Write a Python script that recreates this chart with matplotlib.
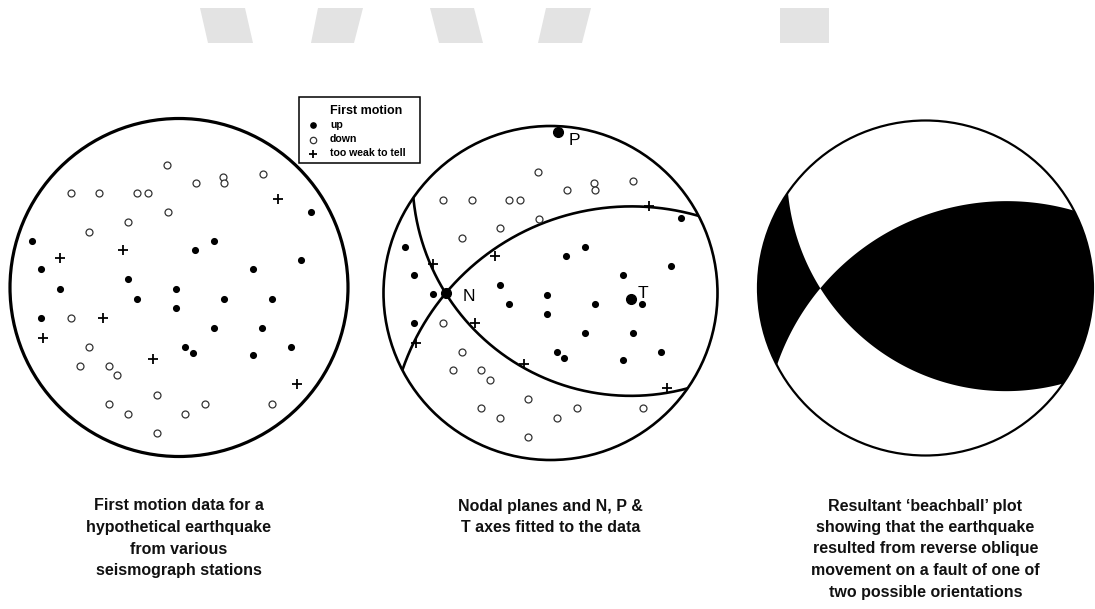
import numpy as np
import matplotlib
matplotlib.use("Agg")
import matplotlib.pyplot as plt
from matplotlib.patches import Circle, Polygon, Rectangle

# ---------------- data ----------------
# station positions on the net (unit circle; east, north)
up_e = [0.779, -0.872, 0.209, 0.095, 0.720, -0.818, 0.436, -0.304, -0.704, -0.018, -0.247,
        0.266, 0.549, -0.018, -0.815, 0.209, 0.493, 0.037, 0.081, 0.663, 0.436]
up_n = [0.447, 0.277, 0.277, 0.222, 0.163, 0.108, 0.108, 0.049, -0.007, -0.009, -0.068,
        -0.068, -0.068, -0.123, -0.182, -0.240, -0.240, -0.354, -0.389, -0.354, -0.401]
down_e = [-0.073, -0.641, -0.473, -0.247, -0.185, 0.099, 0.259, 0.266, 0.495, -0.067, -0.300,
          -0.531, -0.641, -0.531, -0.586, -0.416, -0.365, -0.132, -0.416, -0.304, 0.037,
          0.156, 0.552, -0.132]
down_n = [0.725, 0.557, 0.557, 0.557, 0.557, 0.617, 0.656, 0.617, 0.670, 0.445, 0.389,
          0.330, -0.182, -0.354, -0.463, -0.463, -0.518, -0.636, -0.691, -0.749, -0.749,
          -0.691, -0.691, -0.863]
weak_e = [0.588, -0.704, -0.330, -0.451, -0.803, -0.156, 0.700]
weak_n = [0.522, 0.176, 0.222, -0.182, -0.301, -0.425, -0.571]

# nodal planes (strike, dip in degrees)
plane_strike = [124.8, 242.5]
plane_dip = [40.1, 46.4]
# P and T axes positions on the net
p_axis = (0.046, 0.966)
t_axis = (0.482, -0.038)

legend_title = "First motion"
legend_labels = ["up", "down", "too weak to tell"]

captions = [
    ["First motion data for a", "hypothetical earthquake", "from various", "seismograph stations"],
    ["Nodal planes and N, P &", "T axes fitted to the data"],
    ["Resultant \u2018beachball\u2019 plot", "showing that the earthquake",
     "resulted from reverse oblique", "movement on a fault of one of",
     "two possible orientations"],
]

# ---------------- layout ----------------
W, H = 1095, 609
panels = [(179.0, 287.5, 169.0), (550.5, 293.0, 167.0), (925.5, 288.0, 167.5)]

fig = plt.figure(figsize=(W / 100, H / 100), dpi=100)
ax = fig.add_axes([0, 0, 1, 1])
ax.set_xlim(0, W)
ax.set_ylim(H, 0)
ax.axis("off")

NARROW = ["Liberation Sans Narrow", "Liberation Sans", "DejaVu Sans"]
SANS = ["Liberation Sans", "DejaVu Sans"]

# grey watermark shapes at the top
bars = [
    [(200, 8), (245, 8), (253, 43), (208, 43)],
    [(318, 8), (363, 8), (354, 43), (311, 43)],
    [(430, 8), (474, 8), (483, 43), (439, 43)],
    [(546, 8), (591, 8), (582, 43), (538, 43)],
    [(780, 8), (829, 8), (829, 43), (780, 43)],
]
for b in bars:
    ax.add_patch(Polygon(b, closed=True, facecolor="#e3e3e3", edgecolor="none", zorder=0))


def to_px(panel, e, n):
    cx, cy, r = panel
    return cx + r * np.asarray(e), cy - r * np.asarray(n)


def wulff(v):
    E, N, D = v
    D = np.clip(D, 0, 1)
    plunge = np.arcsin(D)
    R = np.tan((np.pi / 2 - plunge) / 2)
    h = np.hypot(E, N)
    h = np.where(h == 0, 1, h)
    return R * E / h, R * N / h


def plane_vectors(strike, dip):
    s, d = np.radians(strike), np.radians(dip)
    sv = np.array([np.sin(s), np.cos(s), 0.0])
    dv = np.array([np.cos(s) * np.cos(d), -np.sin(s) * np.cos(d), np.sin(d)])
    return sv, dv


def plane_curve(strike, dip, n=400):
    sv, dv = plane_vectors(strike, dip)
    t = np.linspace(0, np.pi, n)
    v = np.outer(sv, np.cos(t)) + np.outer(dv, np.sin(t))
    return wulff(v)


normals = []
for s, d in zip(plane_strike, plane_dip):
    sv, dv = plane_vectors(s, d)
    normals.append(np.cross(sv, dv))

# null axis = intersection of the planes
nvec = np.cross(normals[0], normals[1])
if nvec[2] < 0:
    nvec = -nvec
nvec = nvec / np.linalg.norm(nvec)
n_e, n_n = wulff(nvec)

# ---------------- panel 1 & 2: stations ----------------
for i, lw in zip([0, 1], [2.3, 1.9]):
    cx, cy, r = panels[i]
    ax.add_patch(Circle((cx, cy), r, facecolor="white", edgecolor="black", lw=lw, zorder=1))
    x, y = to_px(panels[i], up_e, up_n)
    ax.plot(x, y, "o", ms=4.1, color="black", mec="black", zorder=4)
    x, y = to_px(panels[i], down_e, down_n)
    ax.plot(x, y, "o", ms=5.0, mfc="white", mec="#333333", mew=0.9, zorder=4)
    x, y = to_px(panels[i], weak_e, weak_n)
    ax.plot(x, y, "+", ms=6.5, color="black", mew=1.3, zorder=4)

# nodal planes in panel 2
for s, d in zip(plane_strike, plane_dip):
    e, n = plane_curve(s, d)
    x, y = to_px(panels[1], e, n)
    ax.plot(x, y, color="black", lw=1.9, zorder=3, solid_capstyle="butt")

# N, P, T
for (e, n), lab, dx, dy in [((n_e, n_n), "N", 17, 3), (p_axis, "P", 10, 9), (t_axis, "T", 7, -6)]:
    x, y = to_px(panels[1], e, n)
    ax.plot([x], [y], "o", ms=7, color="black", zorder=5)
    ax.text(x + dx, y + dy, lab, fontsize=12.5, family=SANS, ha="left", va="center", zorder=6)

# ---------------- panel 3: beachball ----------------
cx, cy, r = panels[2]
g = np.linspace(-1.0, 1.0, 700)
GX, GY = np.meshgrid(g, g)
RR = np.hypot(GX, GY)
theta = 2 * np.arctan(np.minimum(RR, 1.0))
hh = np.where(RR == 0, 1, RR)
V = np.stack([np.sin(theta) * GX / hh, np.sin(theta) * GY / hh, np.cos(theta)])
f = np.tensordot(normals[0], V, axes=1) * np.tensordot(normals[1], V, axes=1)
# sign at T axis -> compressional (black)
tx, ty = t_axis
tr = np.hypot(tx, ty)
tth = 2 * np.arctan(tr)
tv = np.array([np.sin(tth) * tx / tr, np.sin(tth) * ty / tr, np.cos(tth)])
sgn = np.sign(np.dot(normals[0], tv) * np.dot(normals[1], tv))
f = f * sgn
PX, PY = to_px(panels[2], GX, GY)
clip = Circle((cx, cy), r, transform=ax.transData, facecolor="none", edgecolor="none")
ax.add_patch(Circle((cx, cy), r, facecolor="white", edgecolor="none", zorder=1))
cs = ax.contourf(PX, PY, f, levels=[0, 10], colors=["black"], zorder=2, antialiased=True)
ax.add_patch(clip)
cs.set_clip_path(clip)
ax.add_patch(Circle((cx, cy), r, facecolor="none", edgecolor="black", lw=1.6, zorder=3))

# ---------------- legend ----------------
ax.add_patch(Rectangle((299, 97), 121, 66, facecolor="white", edgecolor="black", lw=1.1, zorder=7))
ax.text(330, 111, legend_title, fontsize=9.0, weight="bold", family=SANS, ha="left", va="center", zorder=8)
ly = [125, 139.5, 153.5]
ax.plot([312.7], [ly[0]], "o", ms=3.8, color="black", zorder=8)
ax.plot([312.7], [ly[1]], "o", ms=4.6, mfc="white", mec="#333333", mew=0.9, zorder=8)
ax.plot([312.7], [ly[2]], "+", ms=6, color="black", mew=1.3, zorder=8)
for y, lab in zip(ly, legend_labels):
    ax.text(330, y, lab, fontsize=7.6, weight="bold", family=SANS, ha="left", va="center", zorder=8)

# ---------------- captions ----------------
for (pcx, _, _), lines in zip(panels, captions):
    for k, line in enumerate(lines):
        ax.text(pcx, 510.5 + k * 21.5, line, fontsize=11.5, weight="bold", family=NARROW,
                ha="center", va="baseline", color="#111111")

fig.savefig("out.png", dpi=100)
